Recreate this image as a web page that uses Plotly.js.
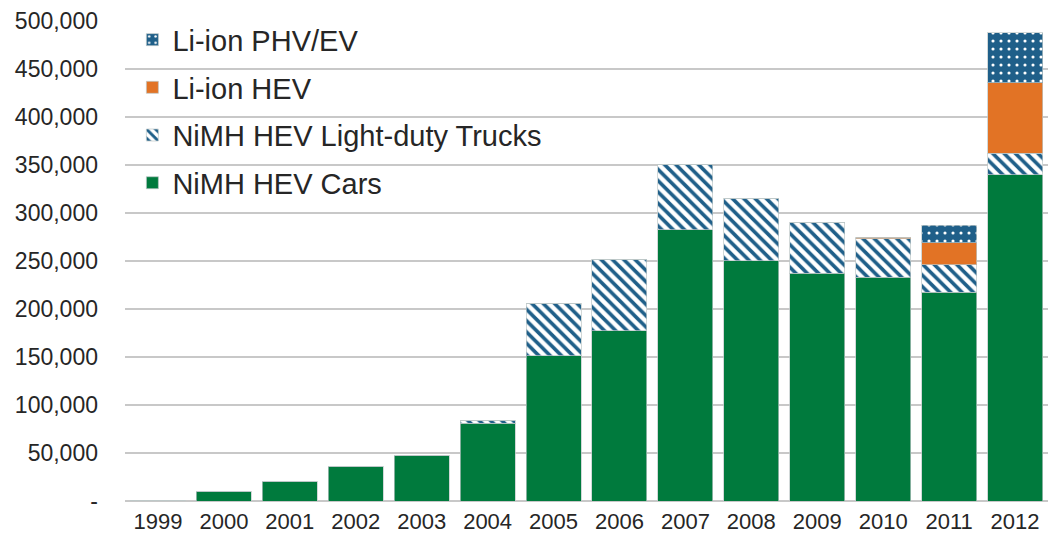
<!DOCTYPE html>
<html>
<head>
<meta charset="utf-8">
<script src="https://cdn.plot.ly/plotly-3.0.1.min.js"></script>
<style>html,body{margin:0;padding:0;background:#fff;}#chart{width:1048px;height:544px;}</style>
</head>
<body>
<div id="chart"></div>
<script>
const years = ["1999","2000","2001","2002","2003","2004","2005","2006","2007","2008","2009","2010","2011","2012"];
const nimhCars   = [17, 9400, 20000, 35800, 47300, 81000, 151500, 177500, 282600, 250500, 237000, 233000, 217500, 340000];
const nimhTrucks = [0, 0, 0, 0, 0, 3000, 54500, 74500, 68400, 65100, 53600, 40000, 28500, 22000];
const liionHEV   = [0, 0, 0, 0, 0, 0, 0, 0, 0, 0, 0, 2000, 23000, 73500];
const liionPHV   = [0, 0, 0, 0, 0, 0, 0, 0, 0, 0, 0, 0, 18000, 52500];
const yTickVals  = [0, 50000, 100000, 150000, 200000, 250000, 300000, 350000, 400000, 450000, 500000];
const yTickText  = ["-", "50,000", "100,000", "150,000", "200,000", "250,000", "300,000", "350,000", "400,000", "450,000", "500,000"];

const GREEN = "#007A3D", ORANGE = "#E27325", BLUE = "#1F5F89";
const edge = {width: 1, color: "rgba(190,200,200,0.7)"};

const traces = [
  {type: "bar", name: "NiMH HEV Cars", x: years, y: nimhCars, legendgroup: "a", legendrank: 4,
   marker: {color: GREEN, line: edge}},
  {type: "bar", name: "NiMH HEV Light-duty Trucks", x: years, y: nimhTrucks, legendgroup: "b", legendrank: 3,
   marker: {color: BLUE, line: edge, pattern: {shape: "\\", fgcolor: BLUE, bgcolor: "#ffffff", size: 8, solidity: 0.45}}},
  {type: "bar", name: "Li-ion HEV", x: years, y: liionHEV, legendgroup: "c", legendrank: 2,
   marker: {color: ORANGE, line: edge}},
  {type: "bar", name: "Li-ion PHV/EV", x: years, y: liionPHV, legendgroup: "d", legendrank: 1,
   marker: {color: BLUE, line: edge, pattern: {shape: ".", fgcolor: "#ffffff", bgcolor: BLUE, size: 8, solidity: 0.12}}}
];

const layout = {
  width: 1048, height: 544,
  margin: {l: 125, r: 0, t: 21, b: 43, pad: 0},
  barmode: "stack", bargap: 0.166,
  paper_bgcolor: "#ffffff", plot_bgcolor: "#ffffff",
  font: {family: "Liberation Sans, Arial, sans-serif", color: "#262626", size: 22},
  showlegend: true,
  legend: {x: 0.008, y: 1.014, xanchor: "left", yanchor: "top", bgcolor: "rgba(0,0,0,0)",
           traceorder: "grouped", tracegroupgap: 7, font: {size: 29, color: "#262626"}},
  xaxis: {type: "category", showgrid: false, zeroline: false, showline: false, ticks: "",
          tickfont: {size: 22}, ticklabelstandoff: 5},
  yaxis: {range: [0, 500000], tickvals: yTickVals, ticktext: yTickText, showgrid: true,
          gridcolor: "#c8c8c8", gridwidth: 1.3, zeroline: true, zerolinecolor: "#c8c8c8", zerolinewidth: 1.3,
          showline: false, ticks: "", tickfont: {size: 23}, ticklabelstandoff: 26, fixedrange: true}
};

Plotly.newPlot("chart", traces, layout, {displayModeBar: false, staticPlot: true});
</script>
</body>
</html>
